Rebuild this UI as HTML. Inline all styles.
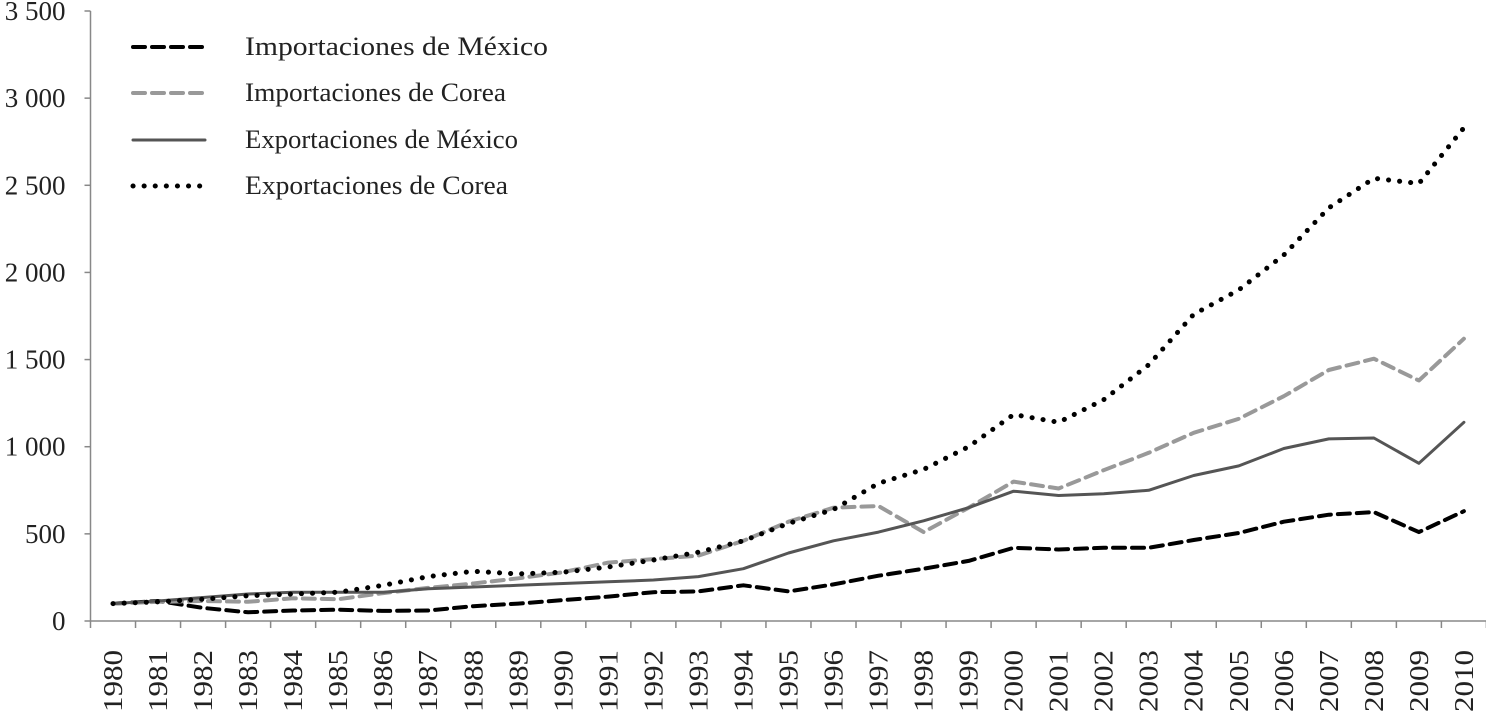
<!DOCTYPE html>
<html><head><meta charset="utf-8"><style>
body{margin:0;background:#fff;}
svg{display:block;font-family:"Liberation Serif",serif;}
</style></head><body>
<svg id="chart" width="1486" height="714"></svg>
<script>
const years=[];for(let y=1980;y<=2010;y++)years.push(String(y));
const yTicks=[0,500,1000,1500,2000,2500,3000,3500];
const yTickLabels=["0","500","1 000","1 500","2 000","2 500","3 000","3 500"];
const impMex=[100,115,75,50,60,65,58,60,85,100,120,140,165,170,205,170,210,260,300,345,420,410,420,420,465,505,570,610,625,510,630];
const impKor=[100,110,115,110,130,125,160,190,215,245,280,335,355,375,460,570,650,660,510,650,800,760,865,965,1080,1160,1290,1440,1505,1380,1620];
const expMex=[100,115,135,155,165,165,165,185,195,205,215,225,235,255,300,390,460,510,575,650,745,720,730,750,835,890,990,1045,1050,905,1140];
const expKor=[100,110,125,145,155,165,205,255,285,270,280,310,350,395,460,560,640,790,870,1000,1185,1140,1270,1470,1760,1900,2100,2370,2540,2510,2830];
const seriesNames=["Importaciones de México","Importaciones de Corea","Exportaciones de México","Exportaciones  de Corea"];
const legendWidths=[303,261,273,263];

const svg=document.getElementById('chart');
const NS='http://www.w3.org/2000/svg';
const x0=90.5,cw=45.03,y0=621,yTop=11,yMax=3500;
const xs=i=>x0+cw*(i+0.5);
const ys=v=>y0-(v/yMax)*(y0-yTop);
function mk(t,a,p){const e=document.createElementNS(NS,t);for(const k in a)e.setAttribute(k,a[k]);(p||svg).appendChild(e);return e;}

const ya=mk('line',{x1:x0,y1:yTop,x2:x0,y2:y0,stroke:'#888','stroke-width':1.5});


const xa=mk('line',{x1:x0,y1:y0,x2:x0+cw*31,y2:y0,stroke:'#888','stroke-width':1.5});


yTicks.forEach((v,i)=>{
  const y=ys(v);
  mk('line',{x1:x0-6,y1:y,x2:x0,y2:y,stroke:'#888','stroke-width':1.5});
  const t=mk('text',{x:x0-25,y:y+9,'text-anchor':'end','font-size':27,fill:'#222'});
  t.textContent=yTickLabels[i];
  
  
});
for(let i=0;i<=years.length;i++){
  const x=x0+cw*i;
  mk('line',{x1:x,y1:y0,x2:x,y2:y0+7,stroke:'#888','stroke-width':1.5});
}
years.forEach((yr,i)=>{
  const x=xs(i);
  const t=mk('text',{x:0,y:0,'text-anchor':'end','font-size':27,fill:'#222',textLength:62,lengthAdjust:'spacingAndGlyphs',transform:`translate(${x+9},650) rotate(-90)`});
  t.textContent=yr;
  
  
});

const styles=[
  {d:impMex,stroke:'#000',w:4,dash:'12,7',name:'line-importaciones-mexico'},
  {d:impKor,stroke:'#999',w:4,dash:'12,7',name:'line-importaciones-corea'},
  {d:expMex,stroke:'#555',w:3,dash:'',name:'line-exportaciones-mexico'},
  {d:expKor,stroke:'#000',w:5,dash:'0.1,11',name:'line-exportaciones-corea'}
];
styles.forEach(s=>{
  const pts=s.d.map((v,i)=>xs(i).toFixed(1)+','+ys(v).toFixed(1)).join(' ');
  const p=mk('polyline',{points:pts,fill:'none',stroke:s.stroke,'stroke-width':s.w,'stroke-dasharray':s.dash,'stroke-linecap':'round','stroke-linejoin':'round'});
  
  
});
const ly=[47,93,140,186];
styles.forEach((s,i)=>{
  const g=mk('g',{});
  
  
  mk('line',{x1:133,y1:ly[i],x2:205,y2:ly[i],stroke:s.stroke,'stroke-width':s.w,'stroke-dasharray':s.dash,'stroke-linecap':'round'},g);
  const t=mk('text',{x:245,y:ly[i]+8,'font-size':26,fill:'#222',textLength:legendWidths[i],lengthAdjust:'spacingAndGlyphs'},g);
  t.textContent=seriesNames[i];
});
</script>
</body></html>
